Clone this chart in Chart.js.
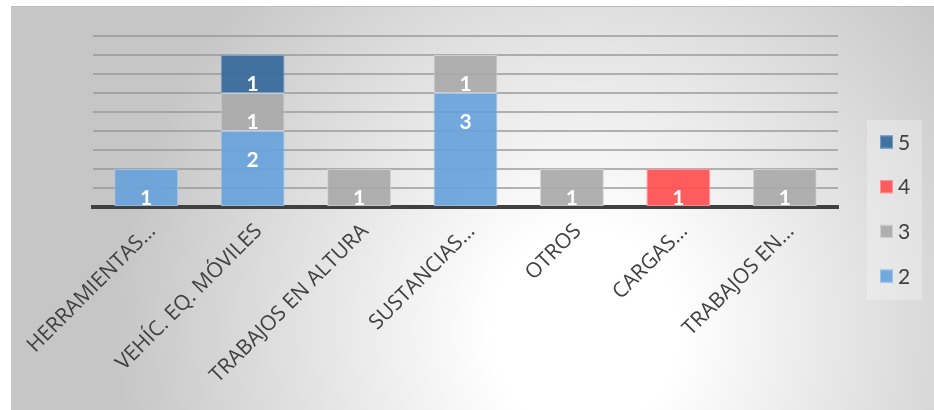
<!DOCTYPE html>
<html lang="es">
<head>
<meta charset="utf-8">
<title>Accidentes por tipo de riesgo</title>
<script src="https://cdn.jsdelivr.net/npm/chart.js@4.4.1/dist/chart.umd.min.js"></script>
<style>
  html, body { margin: 0; padding: 0; background: #fff; }
  #wrap { width: 934px; height: 410px; position: relative; }
</style>
</head>
<body>
<div id="wrap"><canvas id="riesgos"></canvas></div>
<script>
// categorías del eje X (texto tal como se recorta en la hoja)
const categorias = ['HERRAMIENTAS…', 'VEHÍC. EQ. MÓVILES', 'TRABAJOS EN ALTURA', 'SUSTANCIAS…', 'OTROS', 'CARGAS…', 'TRABAJOS EN…'];

// series apiladas (de abajo hacia arriba)
const serie2 = [1, 2, null, 3, null, null, null];
const serie3 = [null, 1, 1, 1, 1, null, 1];
const serie4 = [null, null, null, null, null, 1, null];
const serie5 = [null, 1, null, null, null, null, null];
const nombresSeries = ['2', '3', '4', '5'];

// eje Y: sin etiquetas, solo líneas cada 0,5
const ejeMax = 4.5;
const ejePaso = 0.5;

const colores = {
    '2': 'rgba(104, 163, 218, 0.93)',
    '3': 'rgba(170, 170, 170, 0.93)',
    '4': 'rgba(255, 84, 84, 0.95)',
    '5': 'rgba(58, 108, 156, 0.95)'
};
const bordes = {
    '2': 'rgba(160, 200, 238, 0.9)',
    '3': 'rgba(210, 210, 210, 0.9)',
    '4': 'rgba(255, 150, 150, 0.9)',
    '5': 'rgba(120, 160, 200, 0.9)'
};

const fuenteEje = "'Open Sans', sans-serif";
const fuenteNum = "Lato, 'Open Sans', sans-serif";

// fondo degradado del área del gráfico
const fondo = {
    id: 'fondo',
    beforeDraw(chart) {
        const ctx = chart.ctx;
        const w = chart.width, h = chart.height;
        ctx.save();
        ctx.fillStyle = '#ffffff';
        ctx.fillRect(0, 0, w, h);

        ctx.beginPath();
        ctx.rect(11, 6, w - 11, h - 6);
        ctx.clip();
        const cx = 585, cy = 330, rx = 470, ry = 500;
        ctx.translate(cx, cy);
        ctx.scale(1, ry / rx);
        const g = ctx.createRadialGradient(0, 0, 0, 0, 0, rx);
        g.addColorStop(0, '#ffffff');
        g.addColorStop(0.2, '#ffffff');
        g.addColorStop(1, '#c6c6c6');
        ctx.fillStyle = g;
        ctx.fillRect(-2000, -2000, 4000, 4000);
        ctx.restore();

        ctx.save();
        ctx.strokeStyle = '#bdbdbd';
        ctx.lineWidth = 1;
        ctx.beginPath();
        ctx.moveTo(11, 6.5);
        ctx.lineTo(w, 6.5);
        ctx.stroke();
        ctx.restore();
    }
};

// valores en blanco dentro de cada segmento, cerca del extremo superior
const etiquetas = {
    id: 'etiquetas',
    afterDatasetsDraw(chart) {
        const ctx = chart.ctx;
        ctx.save();
        ctx.fillStyle = '#ffffff';
        ctx.font = "bold 21px " + fuenteNum;
        ctx.textAlign = 'center';
        ctx.textBaseline = 'middle';
        chart.data.datasets.forEach((ds, i) => {
            const meta = chart.getDatasetMeta(i);
            meta.data.forEach((bar, j) => {
                const v = ds.data[j];
                if (v === null || v === undefined) return;
                ctx.fillText(String(v), bar.x, bar.y + 29);
            });
        });
        ctx.restore();
    }
};

// leyenda vertical a la derecha, serie más alta arriba
const leyenda = {
    id: 'leyenda',
    afterDraw(chart) {
        const ctx = chart.ctx;
        const caja = { x: 867, y: 120, w: 55, h: 180 };
        ctx.save();
        ctx.fillStyle = 'rgba(255, 255, 255, 0.28)';
        ctx.fillRect(caja.x, caja.y, caja.w, caja.h);

        const items = chart.data.datasets.slice().reverse();
        const y0 = 142, paso = 44.7;
        ctx.font = "21px " + fuenteNum;
        ctx.textBaseline = 'middle';
        ctx.textAlign = 'left';
        items.forEach((ds, k) => {
            const y = y0 + k * paso;
            ctx.fillStyle = ds.backgroundColor;
            ctx.fillRect(880, y - 6.5, 13, 13);
            ctx.strokeStyle = ds.borderColor;
            ctx.lineWidth = 1;
            ctx.strokeRect(880.5, y - 6, 12, 12);
            ctx.fillStyle = '#404040';
            ctx.fillText(ds.label, 898, y + 1);
        });
        ctx.restore();
    }
};

const series = [serie2, serie3, serie4, serie5];

new Chart(document.getElementById('riesgos'), {
    type: 'bar',
    data: {
        labels: categorias,
        datasets: series.map((datos, i) => ({
            label: nombresSeries[i],
            data: datos,
            backgroundColor: colores[nombresSeries[i]],
            borderColor: bordes[nombresSeries[i]],
            borderWidth: 1,
            borderSkipped: false,
            categoryPercentage: 1,
            barPercentage: 0.6
        }))
    },
    options: {
        responsive: true,
        maintainAspectRatio: false,
        animation: false,
        layout: {
            padding: { left: 93, right: 96, top: 36, bottom: 0 }
        },
        plugins: {
            legend: { display: false },
            tooltip: { enabled: false }
        },
        scales: {
            x: {
                stacked: true,
                grid: { display: false },
                border: { color: '#404040', width: 4 },
                ticks: {
                    color: '#404040',
                    font: { family: fuenteEje, size: 21 },
                    minRotation: 45,
                    maxRotation: 45,
                    autoSkip: false,
                    padding: 4,
                    labelOffset: 6
                },
                afterFit(scale) {
                    scale.height = 203;
                    scale.paddingLeft = 0;
                    scale.paddingRight = 0;
                }
            },
            y: {
                stacked: true,
                min: 0,
                max: ejeMax,
                ticks: { display: false, stepSize: ejePaso },
                grid: {
                    color: 'rgba(150, 150, 150, 0.7)',
                    lineWidth: 2,
                    drawTicks: false
                },
                border: { display: false },
                afterFit(scale) {
                    scale.width = 0;
                }
            }
        }
    },
    plugins: [fondo, etiquetas, leyenda]
});
</script>
</body>
</html>
